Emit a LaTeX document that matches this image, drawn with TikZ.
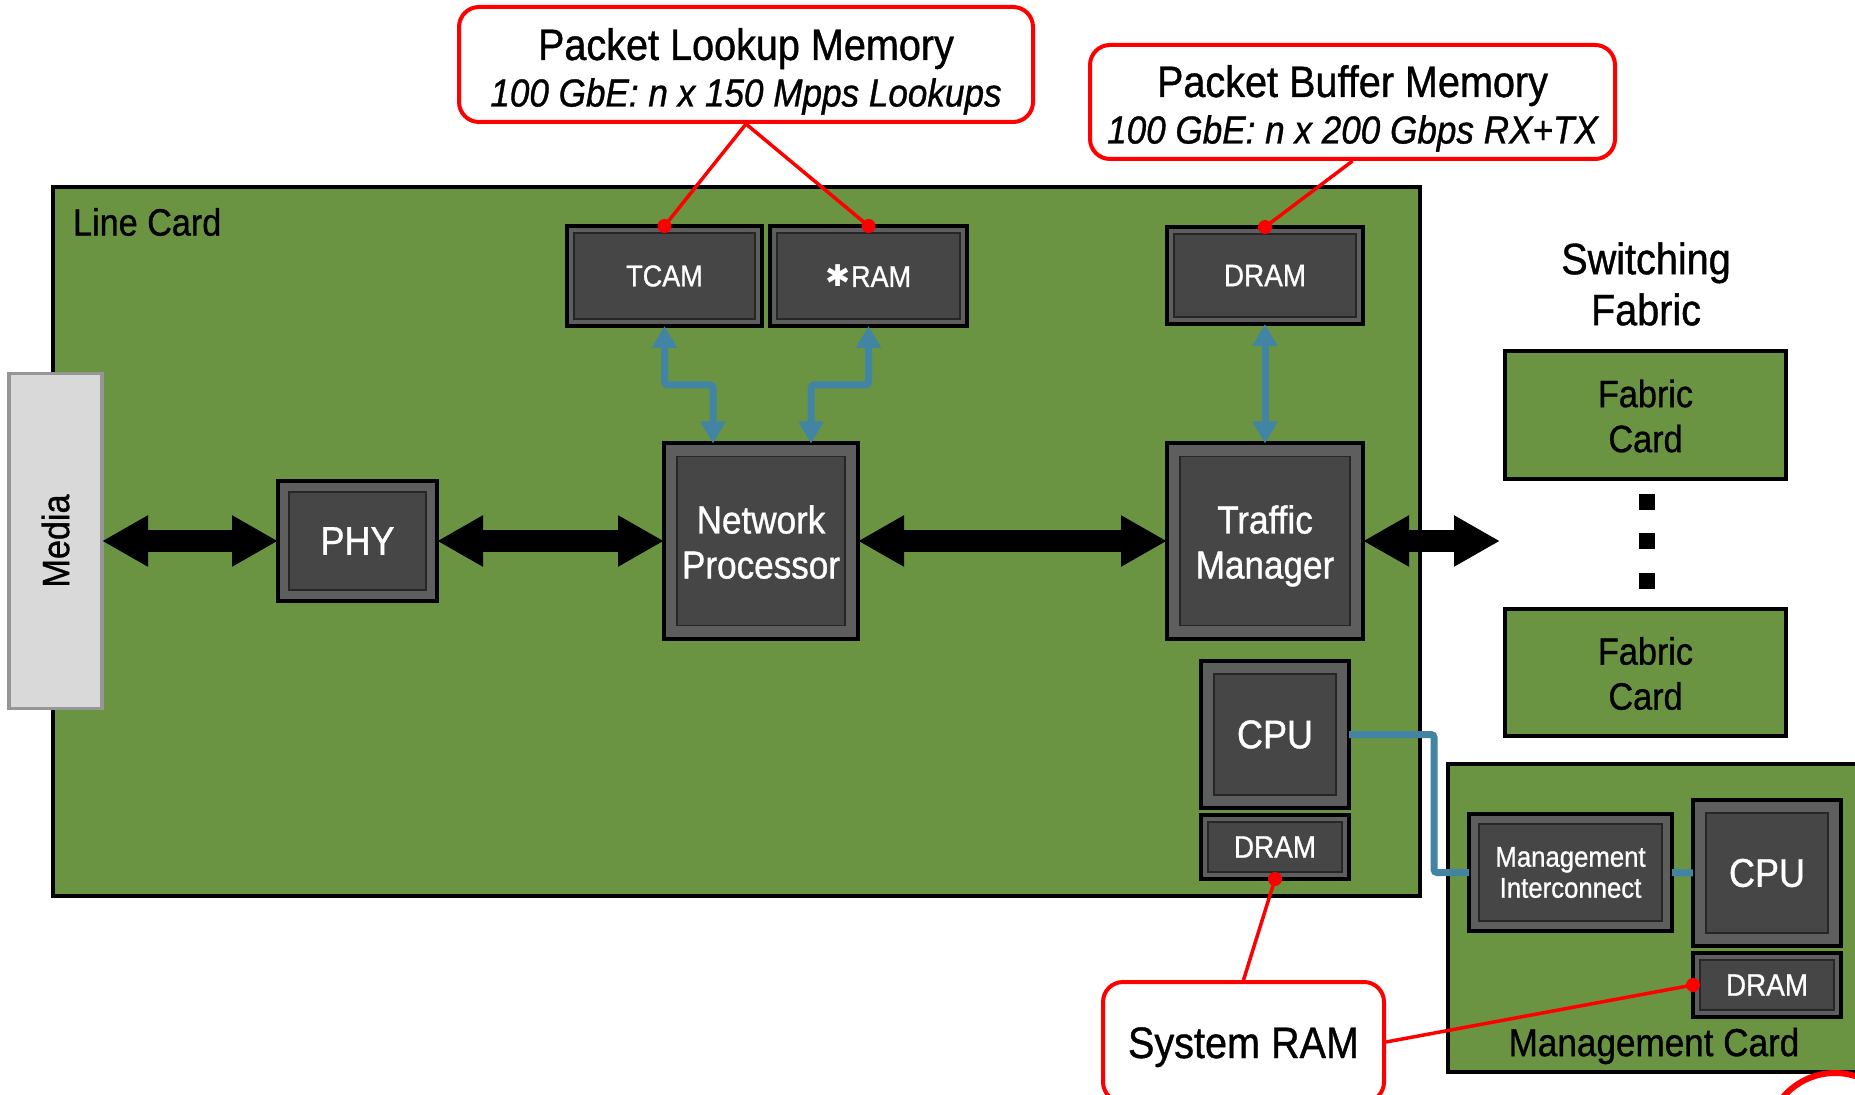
\documentclass[tikz,border=0pt]{standalone}
\usepackage{fontspec}
\usepackage{graphicx}
\setmainfont{Liberation Sans}[FakeStretch=0.9, FakeBold=0.9]
\newfontfamily\djv{DejaVu Sans}
\usetikzlibrary{arrows.meta}
\definecolor{board}{RGB}{107,148,66}
\definecolor{chipface}{RGB}{70,70,70}
\definecolor{chipband}{RGB}{94,94,94}
\definecolor{chipline}{RGB}{38,38,38}
\definecolor{linkblue}{RGB}{65,132,164}
\definecolor{mediafill}{RGB}{217,217,217}
\definecolor{mediaedge}{RGB}{150,150,150}
\newcommand{\lowline}[2]{\raisebox{-#1}[0pt][0pt]{#2}}
\tikzset{
  chipinset/.store in=\chipinset, chipinset=3.5pt,
  chip/.style={draw=black, line width=2pt, fill=chipband, text=white,
    inner sep=0pt, outer sep=0pt, align=center,
    path picture={
      \fill[chipface] ([shift={(\chipinset,\chipinset)}]path picture bounding box.south west)
        rectangle ([shift={(-\chipinset,-\chipinset)}]path picture bounding box.north east);
      \draw[chipline, line width=0.7pt] ([shift={(\chipinset,\chipinset)}]path picture bounding box.south west)
        rectangle ([shift={(-\chipinset,-\chipinset)}]path picture bounding box.north east);
    }},
  card/.style={draw=black, line width=1.6pt, fill=board, inner sep=0pt, outer sep=0pt, align=center},
  media/.style={draw=mediaedge, line width=1.6pt, fill=mediafill, inner sep=0pt, outer sep=0pt},
  callout/.style={draw=red, line width=2pt, fill=white, rounded corners=10pt, inner sep=0pt, align=center},
  callouttitle/.style={anchor=base, inner sep=0pt, font=\fontsize{22}{26}\selectfont},
  calloutsub/.style={anchor=base, inner sep=0pt, font=\fontsize{19.5}{23}\selectfont\itshape},
  bigarrow/.style={line width=11pt, {Triangle[length=23pt,width=24pt]}-{Triangle[length=23pt,width=24pt]}},
  bluearrow/.style={draw=linkblue, line width=3.5pt, rounded corners=1.5pt,
    {Triangle[length=11pt,width=12pt]}-{Triangle[length=11pt,width=12pt]}},
  blueline/.style={draw=linkblue, line width=3.5pt, rounded corners=1.5pt},
  redline/.style={draw=red, line width=1.75pt},
  sq/.style={fill=black, minimum size=8pt, inner sep=0pt},
}
\begin{document}
\begin{tikzpicture}[x=0.5pt, y=-0.5pt]
\fill[white] (0,0) rectangle (1855,1095);
\path[use as bounding box] (0,0) rectangle (1855,1095);

% Line card
\node[card, minimum width=683.5pt, minimum height=354.5pt] (lc) at (736.5,541.5) {};
\node[anchor=west, font=\fontsize{19}{22}\selectfont] (lclabel) at (66,222) {Line Card};

% Media
\node[media, minimum width=46.5pt, minimum height=167.5pt] (media) at (55.5,541)
  {\rotatebox{90}{\fontsize{19}{22}\selectfont Media}};

% Chips
\node[chip, chipinset=5.5pt, minimum width=79.5pt, minimum height=60pt,
  font=\fontsize{20}{24}\selectfont] (phy) at (357.5,541) {PHY};
\node[chip, minimum width=97.5pt, minimum height=50pt,
  font=\fontsize{15}{18}\selectfont] (tcam) at (664.5,276) {TCAM};
\node[chip, minimum width=98.5pt, minimum height=50pt,
  font=\fontsize{15}{18}\selectfont] (ram) at (868.5,276) {{\djv ✱}RAM};
\node[chip, chipinset=6.5pt, minimum width=97pt, minimum height=97.5pt,
  font=\fontsize{19.5}{22.5}\selectfont] (np) at (761,541)
  {\lowline{7.5pt}{Network}\\\lowline{7.5pt}{Processor}};
\node[chip, minimum width=98pt, minimum height=48.5pt,
  font=\fontsize{15.5}{18}\selectfont] (dram) at (1265,275.5) {DRAM};
\node[chip, chipinset=6.5pt, minimum width=98pt, minimum height=97.5pt,
  font=\fontsize{19.5}{22.5}\selectfont] (tm) at (1265,541)
  {\lowline{7.5pt}{Traffic}\\\lowline{7.5pt}{Manager}};
\node[chip, chipinset=6.5pt, minimum width=74pt, minimum height=73.5pt,
  font=\fontsize{20}{24}\selectfont] (cpu) at (1275,734.5) {CPU};
\node[chip, minimum width=74pt, minimum height=32pt,
  font=\fontsize{15.5}{18}\selectfont] (dramlc) at (1275,847) {DRAM};

% Switching fabric
\node[align=center, font=\fontsize{22}{25.5}\selectfont] (sflabel) at (1646,284) {Switching\\Fabric};
\node[card, minimum width=140.5pt, minimum height=64pt,
  font=\fontsize{19}{22.5}\selectfont] (fc1) at (1645.5,415)
  {\lowline{7.3pt}{Fabric}\\\lowline{7.3pt}{Card}};
\node[card, minimum width=140.5pt, minimum height=63.5pt,
  font=\fontsize{19}{22.5}\selectfont] (fc2) at (1645.5,672.5)
  {\lowline{7.3pt}{Fabric}\\\lowline{7.3pt}{Card}};
\node[sq] (dot1) at (1647,502) {};
\node[sq] (dot2) at (1647,541) {};
\node[sq] (dot3) at (1647,581) {};
\coordinate (fabin) at (1500,541);

% Management card
\node[card, minimum width=213.5pt, minimum height=154pt] (mc) at (1661.5,918) {};
\node[chip, chipinset=5pt, minimum width=101.5pt, minimum height=58.5pt,
  font=\fontsize{14.3}{15.5}\selectfont] (mi) at (1570.5,872.5) {Management\\Interconnect};
\node[chip, chipinset=6.5pt, minimum width=74pt, minimum height=73pt,
  font=\fontsize{20}{24}\selectfont] (cpu2) at (1767,873) {CPU};
\node[chip, minimum width=74pt, minimum height=32pt,
  font=\fontsize{15.5}{18}\selectfont] (dram2) at (1767,985) {DRAM};
\node[font=\fontsize{19.5}{22}\selectfont] (mclabel) at (1654,1046) {Management Card};

% Black data-path arrows
\draw[bigarrow] (media.east) -- (phy.west);
\draw[bigarrow] (phy.east) -- (np.west);
\draw[bigarrow] (np.east) -- (tm.west);
\draw[bigarrow] (tm.east) -- (fabin);

% Blue memory links
\draw[bluearrow] (tcam.south) -- ++(0pt,-29.5pt) -| ([xshift=-24pt]np.north);
\draw[bluearrow] (ram.south) -- ++(0pt,-29.5pt) -| ([xshift=25pt]np.north);
\draw[bluearrow] (dram.south) -- (tm.north);
\draw[blueline] (cpu.east) -| ([xshift=-17.5pt]mi.west) -- (mi.west);
\draw[blueline] (mi.east) -- (cpu2.west);

% Callouts
\node[callout, minimum width=287pt, minimum height=57.5pt] (plm) at (746,64.5) {};
\node[callouttitle] (plmtitle) at (746,60) {Packet Lookup Memory};
\node[calloutsub] (plmsub) at (746,106.5) {100 GbE: n x 150 Mpps Lookups};
\node[callout, minimum width=262.5pt, minimum height=57pt] (pbm) at (1352.5,102) {};
\node[callouttitle] (pbmtitle) at (1352.5,97) {Packet Buffer Memory};
\node[calloutsub] (pbmsub) at (1352.5,143.5) {100 GbE: n x 200 Gbps RX+TX};
\node[callout, minimum width=140.5pt, minimum height=60pt,
  font=\fontsize{22}{26}\selectfont] (sram) at (1243.5,1042) {\lowline{8pt}{System RAM}};

\draw[redline] (plm.south) -- (tcam.north);
\draw[redline] (plm.south) -- (ram.north);
\draw[redline] (pbm.south) -- (dram.north);
\draw[redline] (sram.north) -- (dramlc.south);
\draw[redline] (sram.east) -- (dram2.west);
\fill[red] (tcam.north) circle[radius=3.5pt];
\fill[red] (ram.north) circle[radius=3.5pt];
\fill[red] (dram.north) circle[radius=3.5pt];
\fill[red] (dramlc.south) circle[radius=3.5pt];
\fill[red] (dram2.west) circle[radius=3.5pt];

% cropped red mark at the lower right corner
\draw[red, line width=3pt] (1835,1141) circle[radius=34pt];
\end{tikzpicture}
\end{document}
